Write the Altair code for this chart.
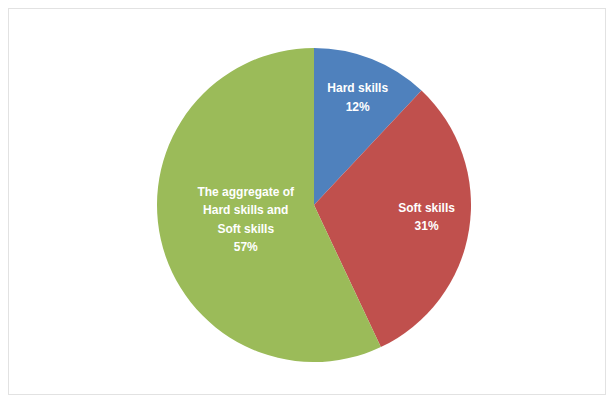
import altair as alt
import pandas as pd

categories = ["Hard skills", "Soft skills", "The aggregate of Hard skills and Soft skills"]
label_lines = ["Hard skills", "Soft skills", "The aggregate of\nHard skills and\nSoft skills"]
shares = [12, 31, 57]
colors = ["#4F81BD", "#C0504D", "#9BBB59"]

df = pd.DataFrame({
    "cat": categories,
    "share": shares,
    "order": list(range(len(categories))),
    "label": [f"{l}\n{s}%" for l, s in zip(label_lines, shares)],
})

CX, CY, R = 306, 197, 157

base = alt.Chart(df).encode(
    theta=alt.Theta("share:Q", stack=True),
    order=alt.Order("order:O"),
    x=alt.value(CX),
    y=alt.value(CY),
)

pie = base.mark_arc(outerRadius=R, stroke=None).encode(
    color=alt.Color("cat:N", scale=alt.Scale(domain=categories, range=colors), legend=None)
)

def label_layer(cat, radius, dy, dx=0):
    return base.transform_calculate(
        t=f"datum.cat == '{cat}' ? datum.label : ''"
    ).mark_text(
        radius=radius, color="white", fontWeight="bold", fontSize=12,
        font="Liberation Sans", lineBreak="\n", lineHeight=18.5,
        align="center", baseline="middle", dy=dy, dx=dx,
    ).encode(text="t:N")

chart = alt.layer(
    pie,
    label_layer(categories[0], 116, -9, 1),
    label_layer(categories[1], 113, -15, 1),
    label_layer(categories[2], 73, -29, 3),
).properties(
    width=598, height=387,
    autosize=alt.AutoSizeParams(type="fit", contains="padding"),
    padding=0,
).configure_view(stroke="#e2e2e2", strokeWidth=2)

chart.save("out.html", embed_options={"renderer": "svg", "actions": False})
